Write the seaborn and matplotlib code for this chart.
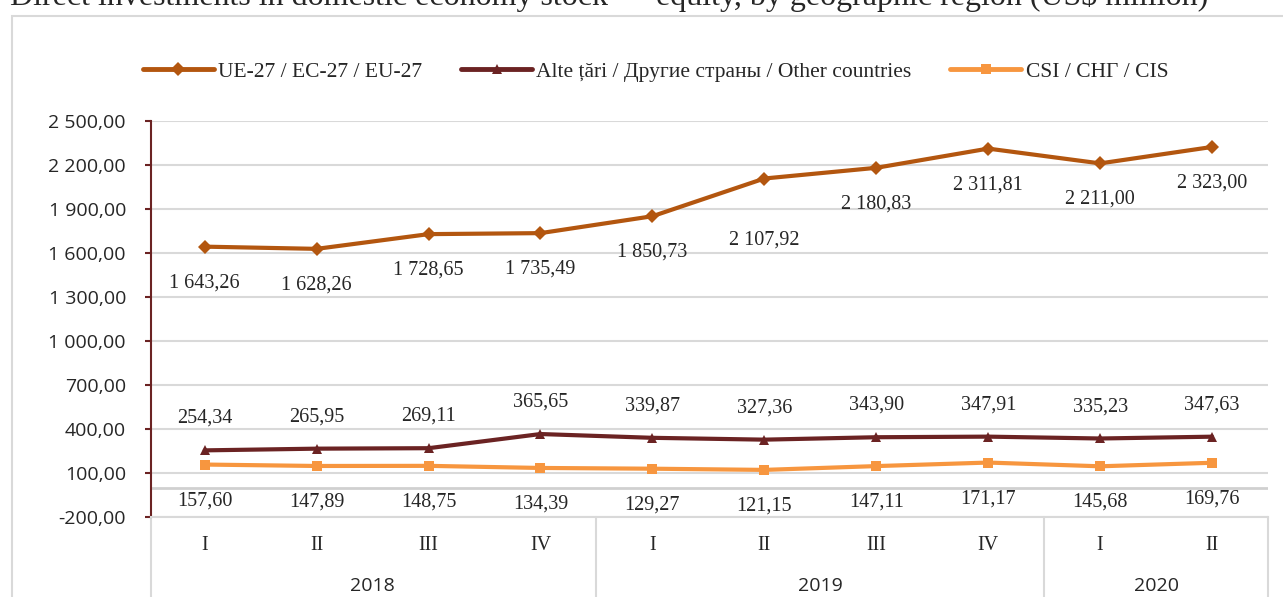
import pandas as pd
import seaborn as sns
import numpy as np
import matplotlib.pyplot as plt
from matplotlib.patches import Rectangle

# data (US$ million)
quarters = ['I', 'II', 'III', 'IV', 'I', 'II', 'III', 'IV', 'I', 'II']
years = ['2018', '2019', '2020']
year_sizes = [4, 4, 2]
eu = [1643.26, 1628.26, 1728.65, 1735.49, 1850.73, 2107.92, 2180.83, 2311.81, 2211.00, 2323.00]
other = [254.34, 265.95, 269.11, 365.65, 339.87, 327.36, 343.90, 347.91, 335.23, 347.63]
cis = [157.60, 147.89, 148.75, 134.39, 129.27, 121.15, 147.11, 171.17, 145.68, 169.76]
series_names = ['UE-27 / ЕС-27 / EU-27', 'Alte țări / Другие страны / Other countries', 'CSI / СНГ / CIS']
colors = ['#B3560F', '#6B2323', '#F7963F']
markers = ['D', '^', 's']
yticks = [-200, 100, 400, 700, 1000, 1300, 1600, 1900, 2200, 2500]

sns.set_style('white')
serif = ['Liberation Serif', 'DejaVu Serif']
sans = ['Open Sans', 'DejaVu Sans']

rows = []
for name, vals in zip(series_names, [eu, other, cis]):
    for i, v in enumerate(vals):
        rows.append({'pos': i, 'value': v, 'series': name})
df = pd.DataFrame(rows)


def fmt(v):
    s = f'{v:,.2f}'
    return s.replace(',', ' ').replace('.', ',')


fig = plt.figure(figsize=(12.83, 5.97), dpi=100)
ax = fig.add_axes([151 / 1283, 1 - 517 / 597, (1268 - 151) / 1283, (517 - 121) / 597])

# outer frame of the chart area
fig.patches.append(Rectangle((12 / 1283, -0.01), 1.2, 1 - 16 / 597 + 0.01, transform=fig.transFigure,
                             fill=False, edgecolor='#d9d9d9', linewidth=1.5, zorder=0))
# title, only its lower part is visible in the reference
fig.text(10 / 1283, 1 - 5 / 597, 'Direct investments in domestic economy stock — equity, by geographic region (US$ million)',
         ha='left', va='baseline', fontsize=23, family=serif)

sns.lineplot(data=df, x='pos', y='value', hue='series', style='series', hue_order=series_names,
             style_order=series_names, palette=colors, markers=dict(zip(series_names, markers)),
             dashes=False, linewidth=3, markersize=7, markeredgewidth=0, ax=ax, zorder=3)

ax.set_xlim(-0.48, 9.5)
ax.set_ylim(-200, 2500)
ax.set_yticks(yticks)
ax.set_yticklabels([fmt(t) for t in yticks], family=sans, fontsize=14)
ax.set_xticks([])
ax.set_xlabel('')
ax.set_ylabel('')
for t in yticks:
    ax.axhline(t, color='#d9d9d9', linewidth=1.5, zorder=1)
ax.axhline(0, color='#d0d0d0', linewidth=2, zorder=1)
for s in ['top', 'right']:
    ax.spines[s].set_visible(False)
ax.spines['bottom'].set_color('#d9d9d9')
ax.spines['bottom'].set_linewidth(1.5)
ax.spines['left'].set_color('#6B2323')
ax.spines['left'].set_linewidth(1.5)
ax.tick_params(axis='y', length=4, width=1.5, color='#6B2323', direction='out', pad=14, left=True)

# data labels (one EU label sits lower in the original)
eu_off = [-26, -26, -26, -26, -26, -44, -26, -26, -26, -26]
for i, v in enumerate(eu):
    ax.annotate(fmt(v), (i, v), xytext=(0, eu_off[i]), textcoords='offset points', ha='center', va='center',
                fontsize=14.5, family=serif)
for i, v in enumerate(other):
    ax.annotate(fmt(v), (i, v), xytext=(0, 23), textcoords='offset points', ha='center', va='center',
                fontsize=14.5, family=serif)
for i, v in enumerate(cis):
    ax.annotate(fmt(v), (i, v), xytext=(0, -26), textcoords='offset points', ha='center', va='center',
                fontsize=14.5, family=serif)

# multi-level category axis
trans = ax.get_xaxis_transform()
for i, q in enumerate(quarters):
    ax.text(i, -0.072, q, transform=trans, ha='center', va='center', fontsize=14.5, family=serif)
start = 0
bounds = [-0.48]
for y, n in zip(years, year_sizes):
    ax.text(start + (n - 1) / 2, -0.175, y, transform=trans, ha='center', va='center', fontsize=14, family=sans)
    start += n
    bounds.append(start - 0.5)
bounds[-1] = 9.5
for b in bounds:
    ax.plot([b, b], [0, -0.25], transform=trans, color='#d9d9d9', linewidth=1.5, clip_on=False)

ax.get_legend().remove()
handles = [plt.Line2D([], [], color=c, marker=m, linewidth=3.5, markersize=7, markeredgewidth=0)
           for c, m in zip(colors, markers)]
fig.legend(handles, series_names, loc='center', bbox_to_anchor=(0.511, 1 - 72 / 597), ncol=3, frameon=False,
           prop={'family': serif, 'size': 15.5}, handlelength=3.3, handletextpad=0.2, columnspacing=1.8)

fig.savefig('out.png', dpi=100)
